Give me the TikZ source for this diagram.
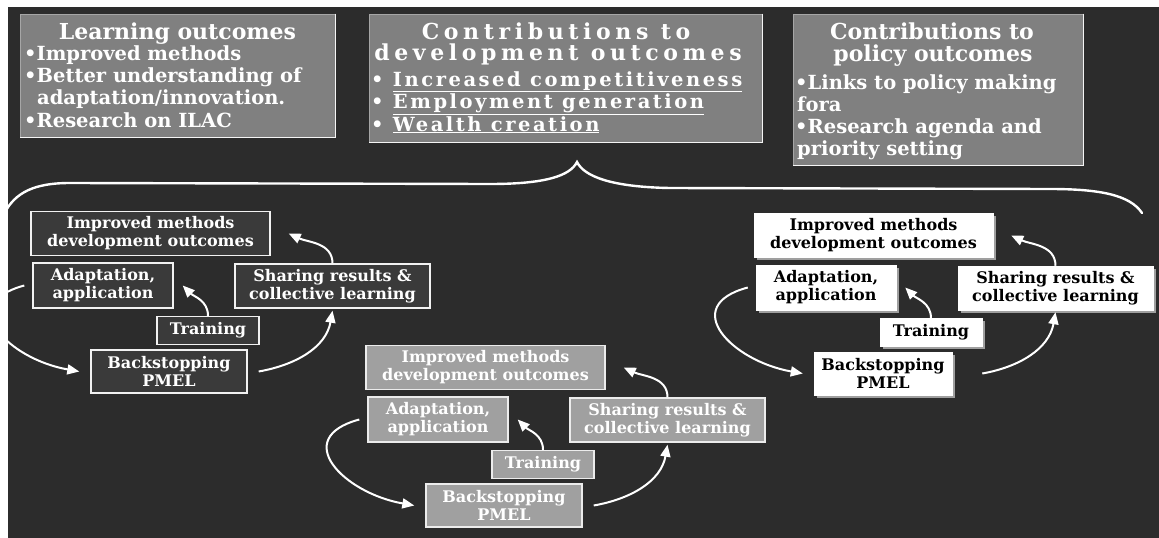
\documentclass[tikz,border=0pt]{standalone}
\usepackage{fontspec}
\setmainfont{DejaVu Serif}
\newfontfamily\outltitle[LetterSpace=21]{DejaVu Serif}
\newfontfamily\outlbul[LetterSpace=13]{DejaVu Serif}
\usetikzlibrary{arrows.meta,shadows}
\definecolor{bgdark}{HTML}{2C2C2C}
\definecolor{topgray}{HTML}{808080}
\definecolor{midgray}{HTML}{A0A0A0}
\definecolor{darkbox}{HTML}{3A3A3A}
\tikzset{
  topbox/.style={fill=topgray, draw=gray!70, line width=0.8pt, inner sep=0pt},
  topedge/.style={draw=white!92!gray, line width=1.6pt},
  ttitle/.style={font=\fontsize{22}{24}\selectfont\bfseries, text=white, inner sep=0pt, anchor=base},
  tline/.style={font=\fontsize{19.5}{22}\selectfont\bfseries, text=white, inner sep=0pt, anchor=base west},
  otitle/.style={font=\outltitle\fontsize{22}{24}\selectfont\bfseries, text=white, inner sep=0pt, anchor=base},
  oline/.style={font=\outlbul\fontsize{19.5}{22}\selectfont\bfseries, text=white, inner sep=0pt, anchor=base west},
  cbase/.style={align=center, inner sep=2pt, font=\fontsize{16}{18}\selectfont\bfseries},
  darkc/.style={cbase, fill=darkbox, draw=white!90!gray, line width=1.4pt, text=white},
  midc/.style={cbase, fill=midgray, draw=white!85!gray, line width=1.4pt, text=white},
  whitec/.style={cbase, fill=white, draw=white, line width=0.5pt, text=black,
     drop shadow={shadow xshift=2.5pt, shadow yshift=-2.5pt, fill=gray!75, opacity=1}},
  arr/.style={draw=white, line width=2pt, -{Triangle[length=12pt,width=10pt]}},
  brace/.style={draw=white, line width=2.4pt, line cap=round},
}
\newcommand\cycgroup[6]{%
\begin{scope}[shift={(#2)}]
  \node[#3, minimum width=239pt, minimum height=44pt] (#1impr) at (150.5,233.5) {Improved methods\\development outcomes};
  \node[#3, minimum width=140pt, minimum height=45pt] (#1adapt) at (103,285.5) {Adaptation,\\application};
  \node[#3, minimum width=195pt, minimum height=44pt] (#1share) at (332.5,286) {Sharing results \&\\collective learning};
  \node[#3, minimum width=102pt, minimum height=28pt] (#1train) at (208,330.5) {Training};
  \node[#3, minimum width=#5pt, minimum height=43pt] (#1back) at (#4,371.5) {Backstopping\\PMEL};
  \draw[arr] (#1share.north) to[out=90,in=-25] ([xshift=18pt]#1impr.east);
  \draw[arr] (#1train.north) to[out=90,in=-45] ([xshift=9pt]#1adapt.east);
  \draw[arr] ([xshift=#6pt]#1back.east) to[out=10,in=-100] ([yshift=-2pt]#1share.south);
  \draw[arr] ([xshift=-8pt]#1adapt.west) to[out=195,in=170,looseness=1.8] ([xshift=-11pt]#1back.west);
\end{scope}}
\begin{document}
\begin{tikzpicture}[x=1pt,y=-1pt]
\useasboundingbox (0,0) rectangle (1159,538);
\begin{scope}
\clip (8,7) rectangle (1159,538);
\fill[bgdark] (8,7) rectangle (1159,538);

% top boxes
\node[topbox, minimum width=315pt, minimum height=123pt] (b1) at (177.5,75.5) {};
\draw[topedge] (b1.north east) -- (b1.south east) -- (b1.south west);
\node[topbox, minimum width=393pt, minimum height=128pt] (b2) at (565.5,78) {};
\draw[topedge] (b2.north east) -- (b2.south east) -- (b2.south west);
\node[topbox, minimum width=290pt, minimum height=151pt] (b3) at (938,89.5) {};
\draw[topedge] (b3.north east) -- (b3.south east) -- (b3.south west);

\node[ttitle] (b1t) at (177.5,39) {Learning outcomes};
\node[tline] (b1l1) at (24,60) {•Improved methods};
\node[tline] (b1l2) at (24,82) {•Better understanding of};
\node[tline] (b1l3) at (37,104) {adaptation/innovation.};
\node[tline] (b1l4) at (24,127) {•Research on ILAC};

\node[otitle] (b2t1) at (556,39) {Contributions to};
\node[otitle] (b2t2) at (558,60) {development outcomes};
\node[oline] (b2l1) at (371,86) {• \underline{Increased competitiveness}};
\node[oline] (b2l2) at (371,108) {• \underline{Employment generation}};
\node[oline] (b2l3) at (371,131) {• \underline{Wealth creation}};

\node[ttitle] (b3t1) at (932,39) {Contributions to};
\node[ttitle] (b3t2) at (933,61) {policy outcomes};
\node[tline] (b3l1) at (795,89) {•Links to policy making};
\node[tline] (b3l2) at (797,111) {fora};
\node[tline] (b3l3) at (795,133) {•Research agenda and};
\node[tline] (b3l4) at (797,155) {priority setting};

% brace
\draw[brace] (4,214) .. controls (15,192) and (35,183) .. (70,183) -- (490,184)
  .. controls (545,184) and (570,176) .. (577,162)
  .. controls (584,176) and (610,187) .. (670,188) -- (1050,189)
  .. controls (1100,189) and (1130,195) .. (1142,213);

% cycle groups
\cycgroup{L}{0,0}{darkc}{169}{156}{11}
\cycgroup{M}{335,134}{midc}{169}{156}{11}
\cycgroup{R}{723,2}{whitec}{160}{138}{30}
\end{scope}
\end{tikzpicture}
\end{document}
